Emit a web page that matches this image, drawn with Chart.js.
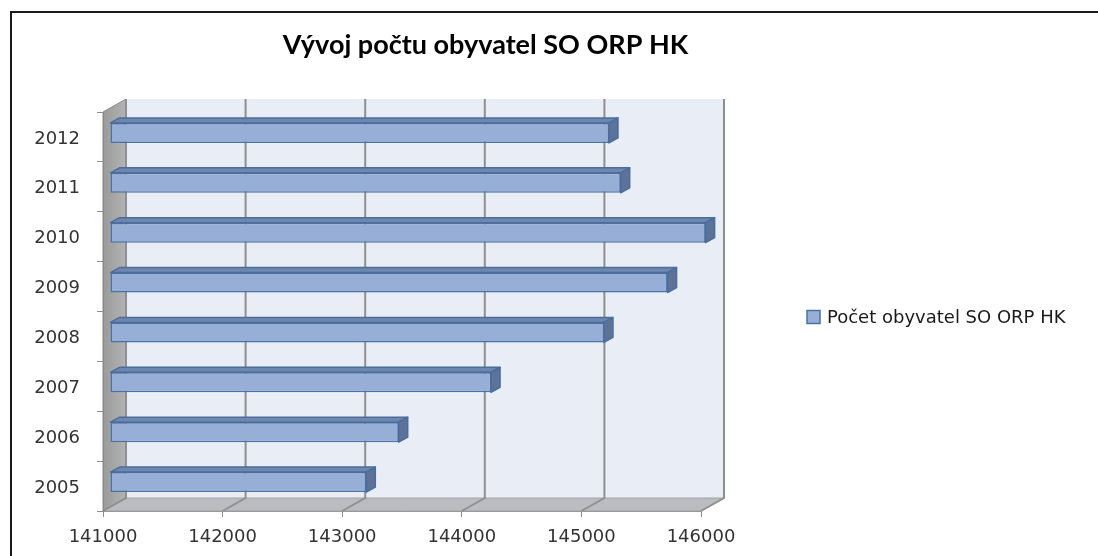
<!DOCTYPE html>
<html lang="cs">
<head>
<meta charset="UTF-8">
<title>Vývoj počtu obyvatel SO ORP HK</title>
<script src="https://cdn.jsdelivr.net/npm/chart.js@4.4.0/dist/chart.umd.min.js"></script>
<style>
    html, body { margin: 0; padding: 0; background: #fff; overflow: hidden; }
    canvas { display: block; }
</style>
</head>
<body>
<canvas id="popChart" width="1098" height="556"></canvas>
<script>
// data
const years = ['2005', '2006', '2007', '2008', '2009', '2010', '2011', '2012'];
const population = [143143, 143414, 144186, 145130, 145662, 145980, 145270, 145172];
const axisMin = 141000;
const axisMax = 146000;
const axisStep = 1000;
const seriesName = 'Počet obyvatel SO ORP HK';

const depth = { x: 23, y: -13 };    // back wall offset
const barShift = { x: 7, y: -4 };   // bars sit in the middle of the depth
const barSide = { x: 9, y: -5 };    // thickness of the bar "box"
const smallFont = '18px "DejaVu Sans"';

function poly(ctx, pts, fill, stroke) {
    ctx.beginPath();
    ctx.moveTo(pts[0][0], pts[0][1]);
    for (let i = 1; i < pts.length; i++) ctx.lineTo(pts[i][0], pts[i][1]);
    ctx.closePath();
    if (fill) { ctx.fillStyle = fill; ctx.fill(); }
    if (stroke) { ctx.strokeStyle = stroke; ctx.stroke(); }
}

// walls, floor and grid of the fake 3D plot
const walls3d = {
    id: 'walls3d',
    beforeDraw(chart) {
        const { ctx, chartArea: a, scales: { x } } = chart;
        const dx = depth.x, dy = depth.y;
        ctx.save();
        // frame of the picture (only top and left are visible)
        ctx.strokeStyle = '#1a1a1a';
        ctx.lineWidth = 2;
        ctx.beginPath();
        ctx.moveTo(11, chart.height);
        ctx.lineTo(11, 12);
        ctx.lineTo(chart.width, 12);
        ctx.stroke();

        ctx.fillStyle = '#E9EDF6';
        ctx.fillRect(a.left + dx, a.top + dy, a.width, a.height);

        const g = ctx.createLinearGradient(a.left, 0, a.left + dx, 0);
        g.addColorStop(0, '#9a9a9a');
        g.addColorStop(1, '#b3b3b3');
        ctx.lineWidth = 1;
        poly(ctx, [[a.left, a.top], [a.left + dx, a.top + dy], [a.left + dx, a.bottom + dy], [a.left, a.bottom]], g, '#8a8a8a');
        poly(ctx, [[a.left, a.bottom], [a.left + dx, a.bottom + dy], [a.right + dx, a.bottom + dy], [a.right, a.bottom]], '#babcbf', '#a0a2a5');

        ctx.strokeStyle = '#8f8f8f';
        ctx.lineWidth = 2;
        x.ticks.forEach(t => {
            const px = x.getPixelForValue(t.value);
            ctx.beginPath();
            ctx.moveTo(px + dx, a.top + dy);
            ctx.lineTo(px + dx, a.bottom + dy);
            ctx.lineTo(px, a.bottom);
            ctx.stroke();
        });
        ctx.restore();
    },
    beforeDatasetsDraw(chart) {
        chart.ctx.save();
        chart.ctx.translate(barShift.x, barShift.y);
    },
    afterDatasetsDraw(chart) {
        const ctx = chart.ctx;
        const sx = barSide.x, sy = barSide.y;
        ctx.lineWidth = 1.5;
        ctx.lineJoin = 'round';
        chart.getDatasetMeta(0).data.forEach(bar => {
            const { x, y, base, height } = bar.getProps(['x', 'y', 'base', 'height'], true);
            const top = y - height / 2, bot = y + height / 2;
            poly(ctx, [[base, top], [base + sx, top + sy], [x + sx, top + sy], [x, top]], '#6f87ae', '#4a6d9c');
            poly(ctx, [[x, top], [x + sx, top + sy], [x + sx, bot + sy], [x, bot]], '#5d7298', '#4a6d9c');
        });
        ctx.restore();
    },
    // legend box on the right, drawn here so it can sit away from the plot
    afterDraw(chart) {
        const { ctx, chartArea: a } = chart;
        const ds = chart.data.datasets[0];
        const bx = a.right + 106, cy = 317;
        ctx.save();
        ctx.lineWidth = 1.5;
        ctx.fillStyle = ds.backgroundColor;
        ctx.strokeStyle = ds.borderColor;
        ctx.fillRect(bx, cy - 6.5, 13, 13);
        ctx.strokeRect(bx, cy - 6.5, 13, 13);
        ctx.fillStyle = '#1a1a1a';
        ctx.font = smallFont;
        ctx.textBaseline = 'middle';
        ctx.fillText(ds.label, bx + 20, cy + 1);
        ctx.restore();
    }
};

new Chart(document.getElementById('popChart'), {
    type: 'bar',
    data: {
        labels: years,
        datasets: [{
            label: seriesName,
            data: population,
            base: axisMin,
            backgroundColor: '#97afd6',
            borderColor: '#4a72a6',
            borderWidth: 1.5,
            borderSkipped: false,
            barPercentage: 0.4,
            categoryPercentage: 1,
            clip: false
        }]
    },
    options: {
        indexAxis: 'y',
        responsive: false,
        animation: false,
        layout: { padding: { left: 0, top: 0, right: 127, bottom: 0 } },
        plugins: {
            title: {
                display: true,
                text: 'Vývoj počtu obyvatel SO ORP HK',
                color: '#000',
                font: { family: 'Lato', size: 27, weight: 'bold' },
                padding: { top: 29, bottom: 50.6 }
            },
            legend: { display: false },
            tooltip: { enabled: false }
        },
        scales: {
            x: {
                type: 'linear',
                min: axisMin,
                max: axisMax,
                ticks: {
                    stepSize: axisStep,
                    color: '#333',
                    font: { family: 'DejaVu Sans', size: 18 },
                    padding: 10,
                    callback: v => String(v)
                },
                grid: { drawOnChartArea: false, drawTicks: true, tickLength: 6, color: '#8c8c8c' },
                border: { display: true, color: '#9a9a9a', width: 1 },
                afterFit: s => { s.height = 45; }
            },
            y: {
                reverse: true,
                ticks: {
                    color: '#333',
                    font: { family: 'DejaVu Sans', size: 18 },
                    padding: 17,
                    labelOffset: 2
                },
                grid: { display: true, drawOnChartArea: false, drawTicks: true, tickLength: 6, offset: true, color: '#8c8c8c' },
                border: { display: true, color: '#8a8a8a' },
                afterFit: s => { s.width = 103; }
            },
            // empty axis that keeps the space between plot and legend
            gap: {
                type: 'linear',
                position: 'right',
                display: true,
                ticks: { display: false },
                grid: { display: false },
                border: { display: false },
                afterFit: s => { s.width = 270; }
            }
        }
    },
    plugins: [walls3d]
});
</script>
</body>
</html>
